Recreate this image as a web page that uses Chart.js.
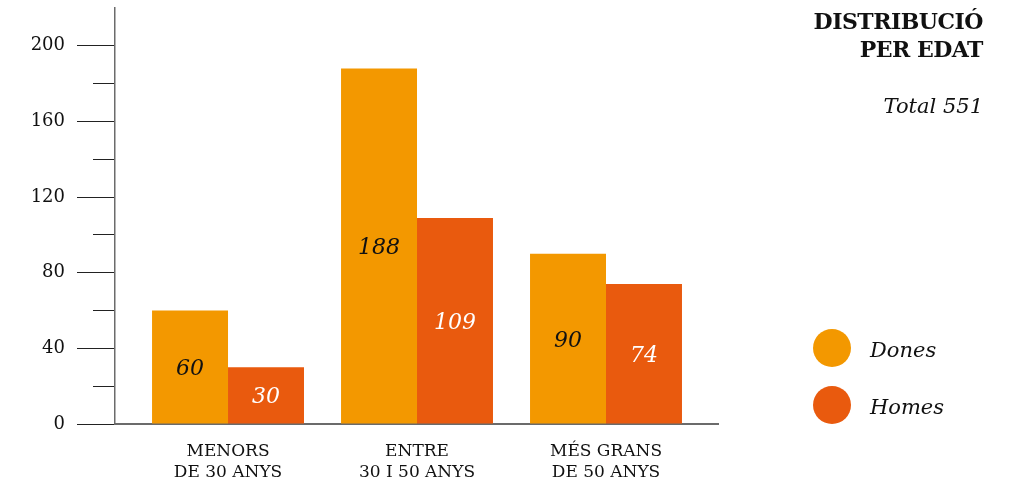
<!DOCTYPE html>
<html>
<head>
<meta charset="utf-8">
<script src="https://cdn.jsdelivr.net/npm/chart.js@4.4.1/dist/chart.umd.min.js"></script>
<style>
  html, body { margin: 0; padding: 0; background: #fff; }
  #wrap { position: relative; width: 1031px; height: 490px; font-family: "DejaVu Serif", serif; color: #111; }
  #titol { position: absolute; right: 48px; top: 7px; text-align: right; font-weight: bold; font-size: 22px; line-height: 28px; letter-spacing: -0.5px; }
  #total { position: absolute; right: 48px; top: 92px; font-style: italic; font-size: 21px; line-height: 28px; }
  #llegenda { position: absolute; left: 813px; top: 329px; }
  .item { display: flex; align-items: center; height: 38px; margin-bottom: 19px; }
  .dot { width: 38px; height: 38px; border-radius: 50%; margin-right: 19px; }
  .item span { font-style: italic; font-size: 21px; padding-top: 3px; }
</style>
</head>
<body>
<div id="wrap">
  <canvas id="myChart" width="1031" height="490"></canvas>
  <div id="titol">DISTRIBUCIÓ<br>PER EDAT</div>
  <div id="total">Total 551</div>
  <div id="llegenda"></div>
</div>
<script>
const categories = [["MENORS", "DE 30 ANYS"], ["ENTRE", "30 I 50 ANYS"], ["MÉS GRANS", "DE 50 ANYS"]];
const dones = [60, 188, 90];
const homes = [30, 109, 74];
const yLabels = [0, 40, 80, 120, 160, 200];

const ORANGE = '#F39800';
const RED = '#E95A0E';
const INK = '#111';

const toPoints = vals => vals.map((v, i) => ({ x: i, y: v }));

// numeros dins de cada barra
const valueLabels = {
  id: 'valueLabels',
  afterDatasetsDraw(chart) {
    const c = chart.ctx;
    c.save();
    c.font = 'italic 22px "DejaVu Serif"';
    c.textAlign = 'center';
    c.textBaseline = 'alphabetic';
    chart.data.datasets.forEach((ds, i) => {
      chart.getDatasetMeta(i).data.forEach((bar, j) => {
        const { x, y, base } = bar.getProps(['x', 'y', 'base'], true);
        c.fillStyle = ds.textColor;
        c.fillText(ds.data[j].y, x, (y + base) / 2 + 8);
      });
    });
    c.restore();
  }
};

const ctx = document.getElementById('myChart');

const chart = new Chart(ctx, {
  type: 'bar',
  data: {
    datasets: [
      { label: 'Dones', data: toPoints(dones), backgroundColor: ORANGE, textColor: INK },
      { label: 'Homes', data: toPoints(homes), backgroundColor: RED, textColor: '#fff' }
    ]
  },
  options: {
    responsive: false,
    animation: false,
    layout: { padding: { top: 8, right: 313, left: 0, bottom: 0 } },
    datasets: { bar: { categoryPercentage: 0.804, barPercentage: 1 } },
    plugins: { legend: { display: false }, tooltip: { enabled: false } },
    scales: {
      x: {
        type: 'linear',
        min: -0.598,
        max: 2.5926,
        offset: false,
        afterBuildTicks: s => { s.ticks = categories.map((c, i) => ({ value: i })); },
        afterFit: s => { s.height = 66; s.paddingLeft = 0; s.paddingRight = 0; },
        ticks: {
          callback: v => categories[v],
          font: { family: 'DejaVu Serif', size: 17, lineHeight: 1.25 },
          color: INK,
          padding: 17,
          maxRotation: 0,
          autoSkip: false
        },
        grid: { drawOnChartArea: false, drawTicks: false, offset: false },
        border: { color: '#6b6b6b', width: 2 }
      },
      y: {
        min: 0,
        max: 220,
        afterFit: s => { s.width = 115; s.paddingTop = 0; s.paddingBottom = 0; },
        ticks: {
          stepSize: 20,
          callback: v => yLabels.includes(v) ? v : '',
          padding: 12,
          font: { family: 'DejaVu Serif', size: 18 },
          color: INK
        },
        grid: {
          drawOnChartArea: false,
          tickLength: 38,
          tickWidth: 1.2,
          tickColor: c => c.tick && c.tick.value === 220 ? 'transparent' : '#222',
          tickBorderDash: c => c.tick && yLabels.includes(c.tick.value) ? [] : [0, 16, 22, 100]
        },
        border: { color: '#6b6b6b', width: 1.5 }
      }
    }
  },
  plugins: [valueLabels]
});

const llegenda = document.getElementById('llegenda');
chart.data.datasets.forEach(ds => {
  const item = document.createElement('div');
  item.className = 'item';
  item.innerHTML = '<div class="dot" style="background:' + ds.backgroundColor + '"></div><span>' + ds.label + '</span>';
  llegenda.appendChild(item);
});
</script>
</body>
</html>
